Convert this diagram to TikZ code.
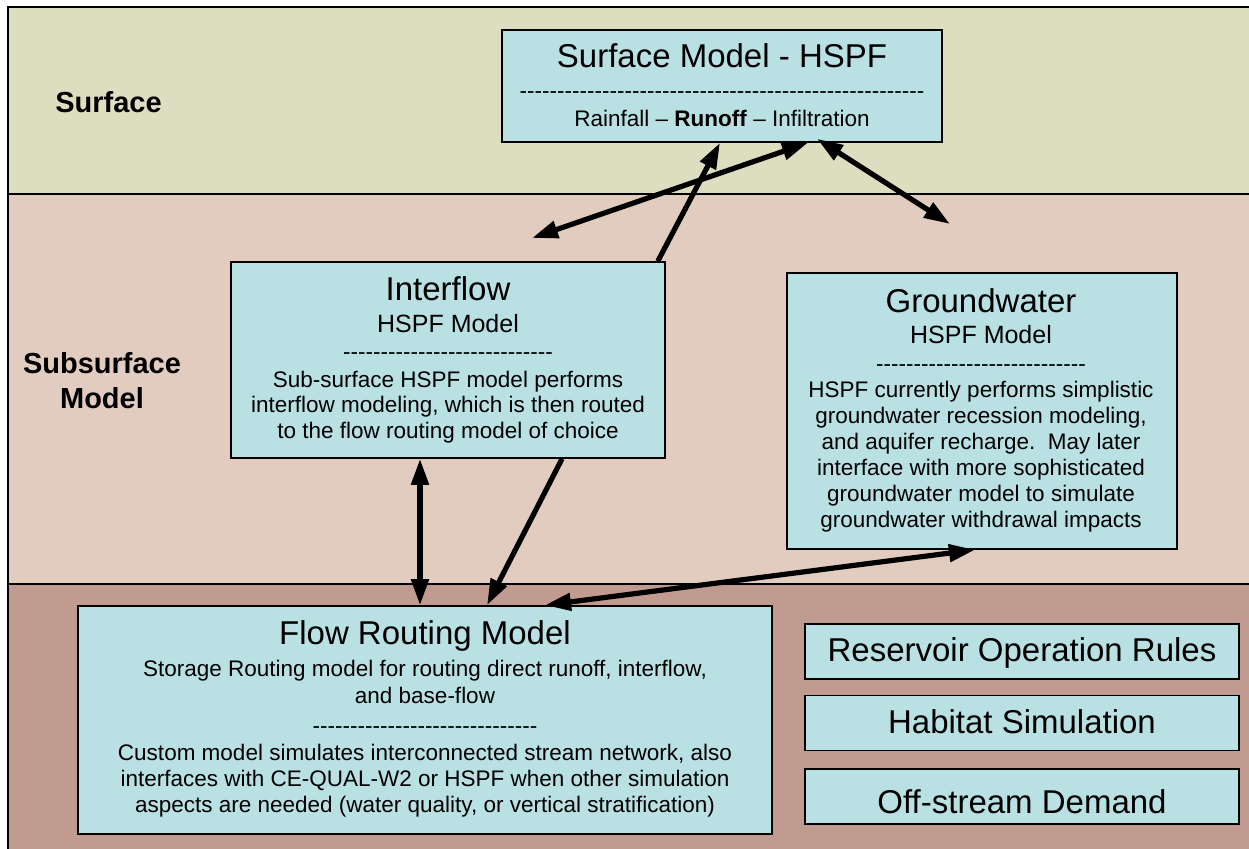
\documentclass[tikz,border=0pt]{standalone}
\usepackage{fontspec}
\usetikzlibrary{arrows.meta,calc}
\newfontfamily\af{Liberation Sans}
\definecolor{surfc}{HTML}{DDDDC0}
\definecolor{subc}{HTML}{E2CCBF}
\definecolor{botc}{HTML}{C29B90}
\definecolor{boxc}{HTML}{B9E0E3}
\newcommand\hyps[1]{\ifnum#1>0 -\kern0pt\expandafter\hyps\expandafter{\the\numexpr#1-1\relax}\fi}
\tikzset{
 box/.style={draw, line width=1.6pt, fill=boxc, inner sep=0pt},
 ln/.style={anchor=base, inner sep=0pt},
 ttl/.style={ln, font=\af\fontsize{33}{38}\selectfont},
 sbt/.style={ln, font=\af\fontsize{25}{29}\selectfont},
 bod/.style={ln, font=\af\fontsize{22.5}{26}\selectfont},
 side/.style={ln, font=\af\bfseries\fontsize{29}{34}\selectfont},
 rt/.style={box, minimum width=434pt, minimum height=55pt},
 tip/.tip={Triangle[length=26pt,width=17pt]},
 arr/.style={line width=5.2pt, -tip},
 barr/.style={line width=5.2pt, tip-tip},
}
\begin{document}
\begin{tikzpicture}[x=1pt,y=-1pt]
\useasboundingbox (0,0) rectangle (1249,848);
\clip (0,0) rectangle (1249,848);
% bands
\fill[surfc] (8,7) rectangle (1270,194);
\fill[subc] (8,194) rectangle (1270,584);
\fill[botc] (8,584) rectangle (1270,870);
\draw[line width=2pt] (8,7) rectangle (1270,870);
\draw[line width=2pt] (8,194) -- (1270,194);
\draw[line width=2pt] (8,584) -- (1270,584);
% side labels
\node[side] (lsurf) at (108.5,113) {Surface};
\node[side] (lsub1) at (102,373) {Subsurface};
\node[side] (lsub2) at (102,408) {Model};
% boxes
\node[box, minimum width=440pt, minimum height=112pt] (surf) at (722,86) {};
\node[box, minimum width=434pt, minimum height=196pt] (inter) at (448,360) {};
\node[box, minimum width=390pt, minimum height=276pt] (gw) at (982,411) {};
\node[box, minimum width=694pt, minimum height=228pt] (flow) at (425,720) {};
\node[rt] (res) at (1022,651.5) {};
\node[rt] (hab) at (1022,723) {};
\node[rt] (off) at (1022,796.5) {};
\node[ttl] (rest) at (1022,661.5) {Reservoir Operation Rules};
\node[ttl] (habt) at (1022,733.5) {Habitat Simulation};
\node[ttl] (offt) at (1022,813) {Off-stream Demand};
% surface text
\node[ttl] (s1) at (722,68) {Surface Model - HSPF};
\node[bod] (s2) at (722,99) {\hyps{54}};
\node[bod] (s3) at (722,127) {Rainfall – \textbf{Runoff} – Infiltration};
% interflow text
\node[ttl] (i1) at (448,300) {Interflow};
\node[sbt] (i2) at (448,332) {HSPF Model};
\node[bod] (i3) at (448,359) {\hyps{28}};
\node[bod] (i4) at (448,387) {Sub-surface HSPF model performs};
\node[bod] (i5) at (448,412.5) {interflow modeling, which is then routed};
\node[bod] (i6) at (448,438) {to the flow routing model of choice};
% groundwater text
\node[ttl] (g1) at (981,312) {Groundwater};
\node[sbt] (g2) at (981,343) {HSPF Model};
\node[bod] (g3) at (981,371) {\hyps{28}};
\node[bod] (g4) at (981,397) {HSPF currently performs simplistic};
\node[bod] (g5) at (981,423) {groundwater recession modeling,};
\node[bod] (g6) at (981,449) {and aquifer recharge.\ \ May later};
\node[bod] (g7) at (981,475) {interface with more sophisticated};
\node[bod] (g8) at (981,501) {groundwater model to simulate};
\node[bod] (g9) at (981,527) {groundwater withdrawal impacts};
% flow text
\node[ttl] (f1) at (425,644) {Flow Routing Model};
\node[bod] (f2) at (425,676) {Storage Routing model for routing direct runoff, interflow,};
\node[bod] (f3) at (425,703) {and base-flow};
\node[bod] (f4) at (425,733) {\hyps{30}};
\node[bod] (f5) at (425,760) {Custom model simulates interconnected stream network, also};
\node[bod] (f6) at (425,786) {interfaces with CE-QUAL-W2 or HSPF when other simulation};
\node[bod] (f7) at (425,812) {aspects are needed (water quality, or vertical stratification)};
% free ends
\coordinate (e1) at (532,238);
\coordinate (e2) at (950,224);
% connectors
\draw[barr] (e1) -- ($(surf.south)+(86,0)$);
\draw[arr] ($(inter.north east)+(-8,0)$) -- ($(surf.south)+(-2,0)$);
\draw[barr] ($(surf.south)+(95,-4)$) -- (e2);
\draw[barr] ($(inter.south)+(-28,0)$) -- ($(flow.north)+(-5,0)$);
\draw[arr] ($(inter.south)+(114,0)$) -- ($(flow.north)+(62,0)$);
\draw[barr] ($(gw.south)+(-7,0)$) -- ($(flow.north)+(120,0)$);
\end{tikzpicture}
\end{document}
